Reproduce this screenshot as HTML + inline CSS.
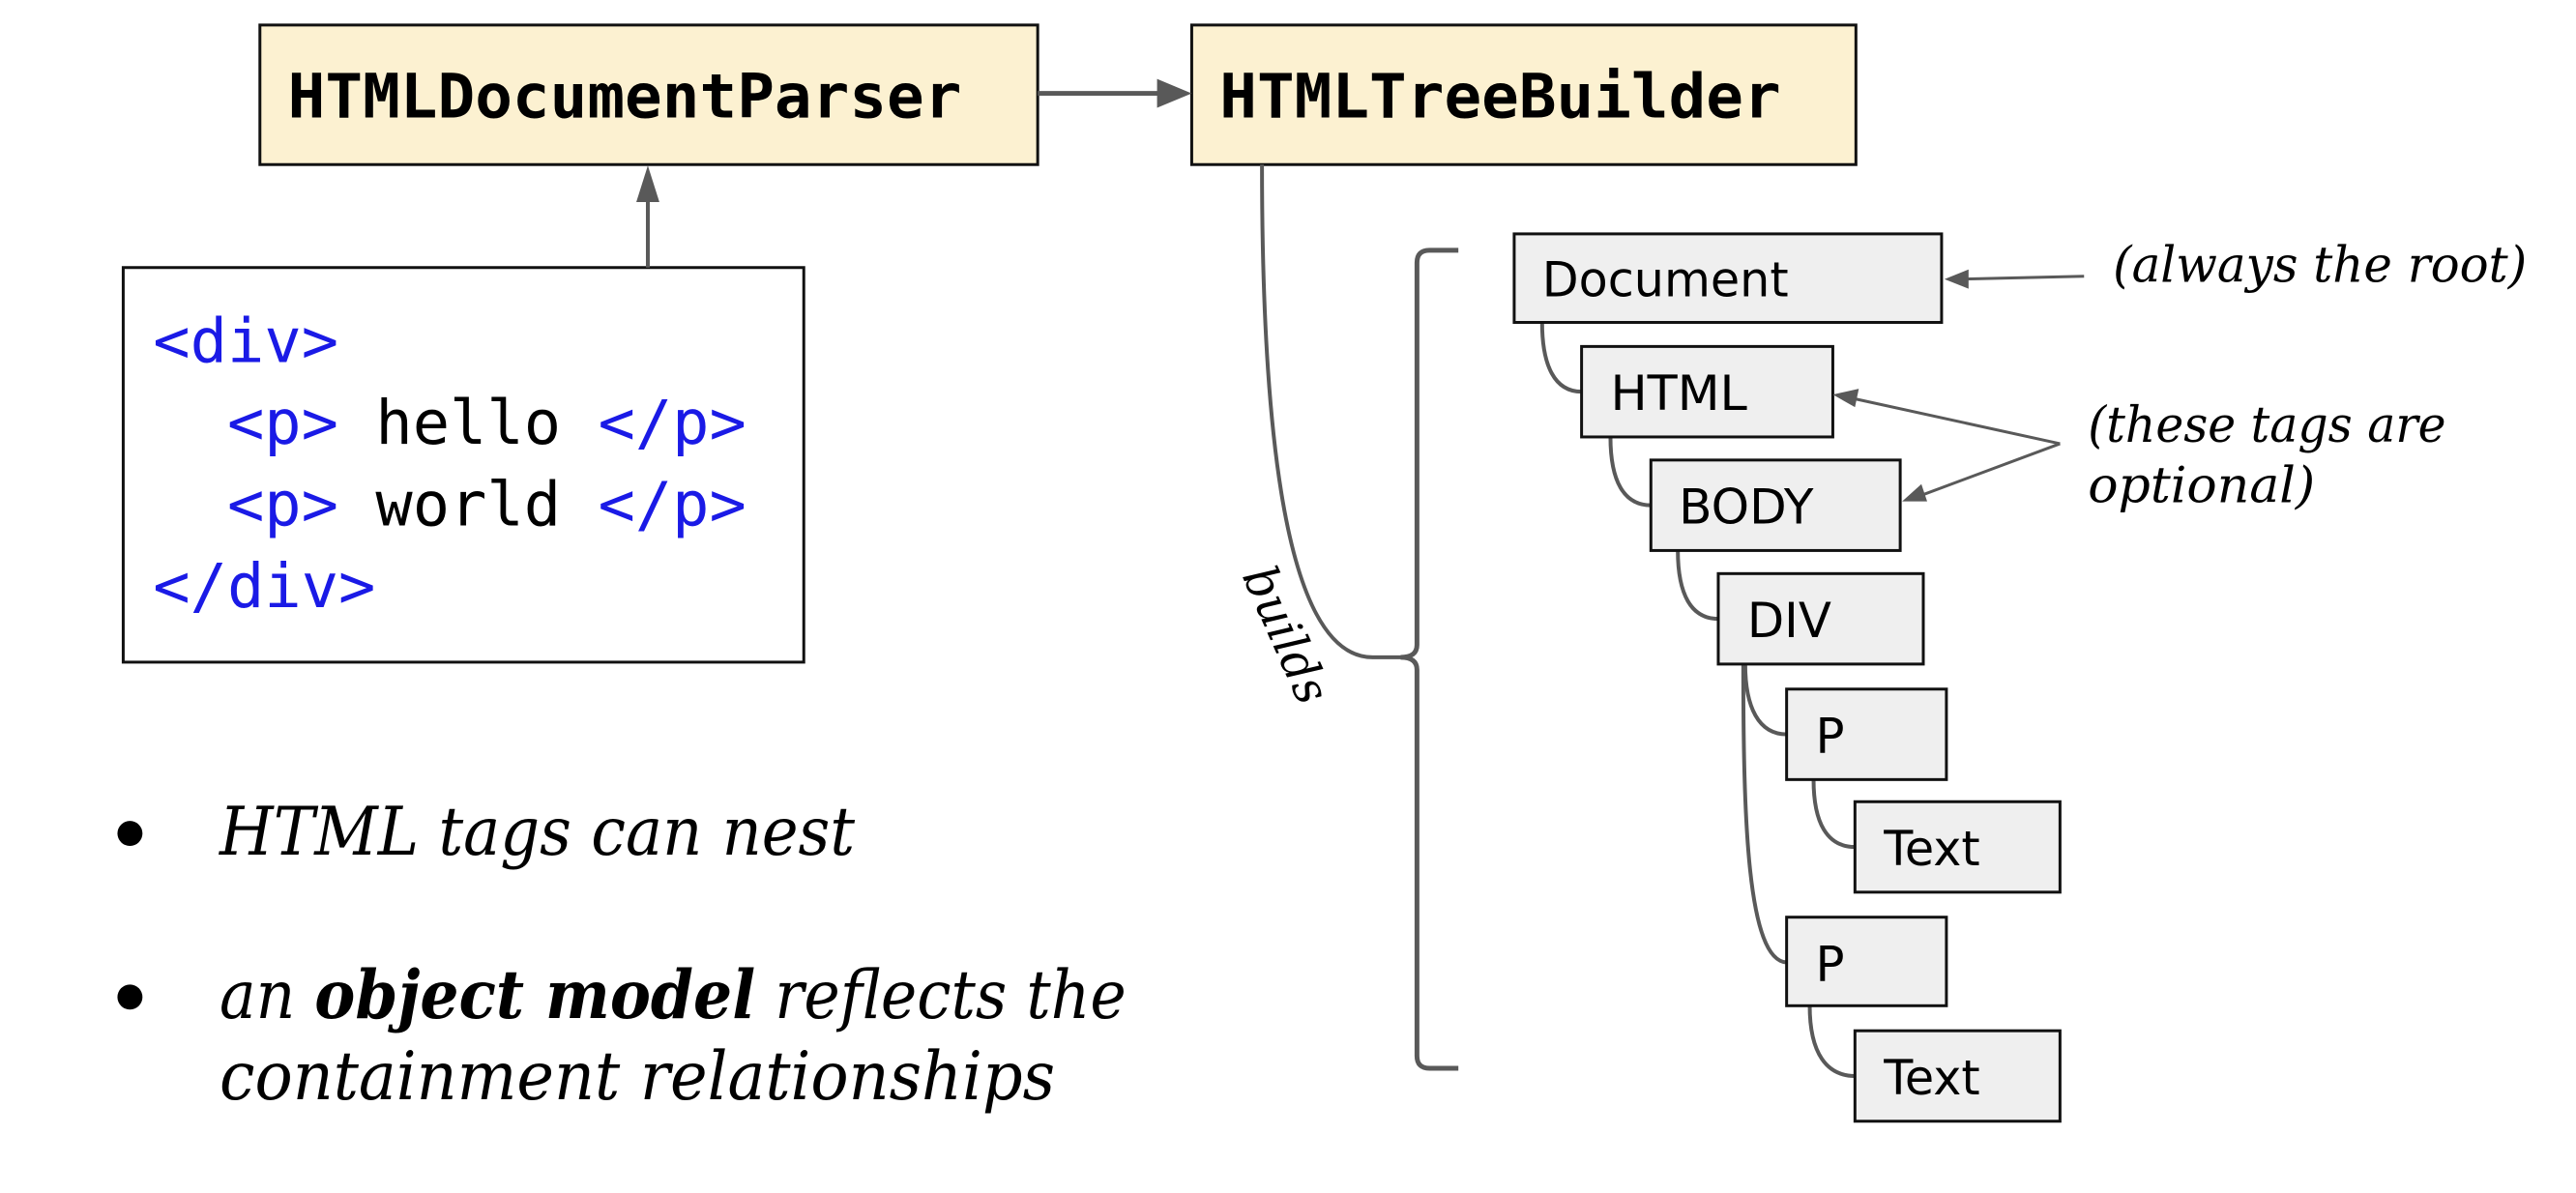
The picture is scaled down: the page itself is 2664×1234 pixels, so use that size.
<!DOCTYPE html>
<html><head><meta charset="utf-8"><style>
html,body{margin:0;padding:0;background:#fff;}
svg{display:block;}
.mono{font-family:"DejaVu Sans Mono","Liberation Mono",monospace;}
.sans{font-family:"DejaVu Sans","Liberation Sans",sans-serif;}
.serif{font-family:"DejaVu Serif","Liberation Serif",serif;font-style:italic;}
</style></head><body>
<svg width="2664" height="1234" viewBox="0 0 2664 1234" xmlns="http://www.w3.org/2000/svg">
<g transform="scale(0.9955)">
<!-- top boxes -->
<rect x="270" y="26" width="808" height="145" fill="#fcf1d1" stroke="#111" stroke-width="3"/>
<text x="299" y="122" class="mono" font-weight="bold" font-size="64" textLength="700" lengthAdjust="spacingAndGlyphs">HTMLDocumentParser</text>
<rect x="1238" y="26" width="690" height="145" fill="#fcf1d1" stroke="#111" stroke-width="3"/>
<text x="1267" y="122" class="mono" font-weight="bold" font-size="64" textLength="583" lengthAdjust="spacingAndGlyphs">HTMLTreeBuilder</text>
<line x1="1078" y1="97" x2="1210" y2="97" stroke="#595959" stroke-width="5"/>
<polygon points="1238,97 1202,82 1202,112" fill="#595959"/>
<!-- code box -->
<rect x="128" y="278" width="707" height="410" fill="#fff" stroke="#111" stroke-width="3"/>
<line x1="673" y1="278" x2="673" y2="205" stroke="#595959" stroke-width="4"/>
<polygon points="673,172 661,210 685,210" fill="#595959"/>
<g class="mono" font-size="64">
<text x="159" y="376" fill="#1a1ae6">&lt;div&gt;</text>
<text x="236" y="461"><tspan fill="#1a1ae6">&lt;p&gt;</tspan> hello <tspan fill="#1a1ae6">&lt;/p&gt;</tspan></text>
<text x="236" y="546"><tspan fill="#1a1ae6">&lt;p&gt;</tspan> world <tspan fill="#1a1ae6">&lt;/p&gt;</tspan></text>
<text x="159" y="631" fill="#1a1ae6">&lt;/div&gt;</text>
</g>
<!-- bullets -->
<circle cx="135" cy="866" r="13" fill="#000"/>
<circle cx="135" cy="1036" r="13" fill="#000"/>
<g class="serif" font-size="70">
<text x="228" y="888" textLength="660" lengthAdjust="spacingAndGlyphs">HTML tags can nest</text>
<text x="228" y="1058" textLength="942" lengthAdjust="spacingAndGlyphs">an <tspan font-weight="bold">object model</tspan> reflects the</text>
<text x="228" y="1142" textLength="868" lengthAdjust="spacingAndGlyphs">containment relationships</text>
</g>
<!-- builds curve & bracket -->
<path d="M1311 171 C1311 420 1330 683 1426 683 L1460 683" fill="none" stroke="#595959" stroke-width="4"/>
<path d="M1515 260 L1485 260 Q1472 260 1472 273 L1472 670 Q1472 683 1455 683 Q1472 683 1472 696 L1472 1097 Q1472 1110 1485 1110 L1515 1110" fill="none" stroke="#595959" stroke-width="5"/>
<text x="0" y="0" class="serif" font-size="50" transform="translate(1290,598) rotate(66)" textLength="150" lengthAdjust="spacingAndGlyphs">builds</text>
<!-- tree connectors -->
<g fill="none" stroke="#595959" stroke-width="4">
<path d="M1602 335 C1602 380 1615 407 1643 407"/>
<path d="M1673 454 C1673 500 1687 525 1715 525"/>
<path d="M1743 572 C1743 618 1757 643 1785 643"/>
<path d="M1813 690 C1813 735 1827 763 1856 763"/>
<path d="M1884 810 C1884 855 1898 880 1927 880"/>
<path d="M1811 690 C1811 850 1815 998 1856 1000"/>
<path d="M1880 1045 C1880 1095 1898 1118 1927 1118"/>
</g>
<!-- tree boxes -->
<g fill="#efefef" stroke="#111" stroke-width="3">
<rect x="1573" y="243" width="444" height="92"/>
<rect x="1643" y="360" width="261" height="94"/>
<rect x="1715" y="478" width="259" height="94"/>
<rect x="1785" y="596" width="213" height="94"/>
<rect x="1856" y="716" width="166" height="94"/>
<rect x="1927" y="833" width="213" height="94"/>
<rect x="1856" y="953" width="166" height="92"/>
<rect x="1927" y="1071" width="213" height="94"/>
</g>
<g class="sans" font-size="50">
<text x="1602" y="308" textLength="256" lengthAdjust="spacingAndGlyphs">Document</text>
<text x="1673" y="426" textLength="142" lengthAdjust="spacingAndGlyphs">HTML</text>
<text x="1744" y="544" textLength="140" lengthAdjust="spacingAndGlyphs">BODY</text>
<text x="1815" y="662">DIV</text>
<text x="1886" y="782">P</text>
<text x="1957" y="899" textLength="100" lengthAdjust="spacingAndGlyphs">Text</text>
<text x="1886" y="1019">P</text>
<text x="1957" y="1137" textLength="100" lengthAdjust="spacingAndGlyphs">Text</text>
</g>
<!-- annotations -->
<g stroke="#595959" stroke-width="3" fill="none">
<line x1="2165" y1="287" x2="2040" y2="290"/>
<line x1="2140" y1="461" x2="1925" y2="414"/>
<line x1="2140" y1="461" x2="1995" y2="515"/>
</g>
<g fill="#595959">
<polygon points="2020,290 2045,280 2045,300"/>
<polygon points="1904,410 1931,404 1927,423"/>
<polygon points="1976,521 1996,503 2002,521"/>
</g>
<g class="serif" font-size="52">
<text x="2195" y="293" textLength="430" lengthAdjust="spacingAndGlyphs">(always the root)</text>
<text x="2169" y="459" textLength="372" lengthAdjust="spacingAndGlyphs">(these tags are</text>
<text x="2169" y="522" textLength="236" lengthAdjust="spacingAndGlyphs">optional)</text>
</g>
</g>
</svg>
</body></html>
